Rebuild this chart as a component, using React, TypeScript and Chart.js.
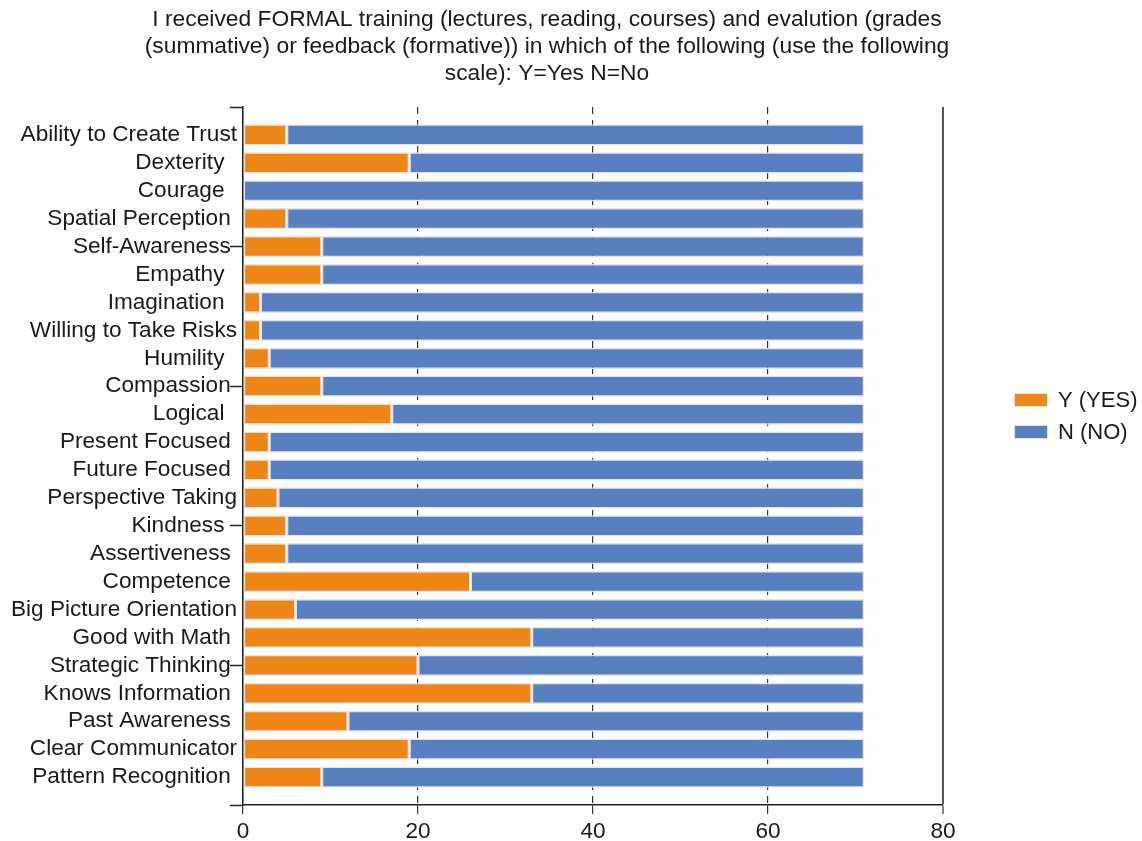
import React, { useEffect, useRef } from 'react';
import { Chart, registerables } from 'chart.js';

Chart.register(...registerables);

const TITLE_LINES = [
  'I received FORMAL training (lectures, reading, courses) and evalution (grades',
  '(summative) or feedback (formative)) in which of the following (use the following',
  'scale): Y=Yes N=No',
];

// Skill names as they appear on the vertical axis (top to bottom)
const skills = [
  'Ability to Create Trust',
  'Dexterity  ',
  'Courage  ',
  'Spatial Perception ',
  'Self-Awareness ',
  'Empathy  ',
  'Imagination  ',
  'Willing to Take Risks',
  'Humility  ',
  'Compassion ',
  'Logical  ',
  'Present Focused ',
  'Future Focused ',
  'Perspective Taking',
  'Kindness  ',
  'Assertiveness ',
  'Competence ',
  'Big Picture Orientation',
  'Good with Math ',
  'Strategic Thinking ',
  'Knows Information ',
  'Past Awareness ',
  'Clear Communicator',
  'Pattern Recognition ',
];

const yesCounts = [5, 19, 0, 5, 9, 9, 2, 2, 3, 9, 17, 3, 3, 4, 5, 5, 26, 6, 33, 20, 33, 12, 19, 9];
const noCounts = [66, 52, 71, 66, 62, 62, 69, 69, 68, 62, 54, 68, 68, 67, 66, 66, 45, 65, 38, 51, 38, 59, 52, 62];

const xTicks = [0, 20, 40, 60, 80];
const seriesNames = ['Y (YES)', 'N (NO)'];

const ORANGE = 'rgb(239,134,24)';
const BLUE = 'rgb(88,127,192)';
const FONT_FAMILY = '"Liberation Sans", Arial, Helvetica, sans-serif';
const TEXT = '#1a1a1a';

const titlePlugin = {
  id: 'blockTitle',
  afterDraw(chart: any) {
    const { ctx } = chart;
    ctx.save();
    ctx.font = `22.8px ${FONT_FAMILY}`;
    ctx.fillStyle = TEXT;
    ctx.textAlign = 'center';
    ctx.textBaseline = 'middle';
    TITLE_LINES.forEach((line, i) => ctx.fillText(line, 547, 20 + i * 27));
    ctx.restore();
  },
};

const sideLegendPlugin = {
  id: 'sideLegend',
  afterDraw(chart: any) {
    const { ctx } = chart;
    ctx.save();
    ctx.font = `22px ${FONT_FAMILY}`;
    ctx.textAlign = 'left';
    ctx.textBaseline = 'middle';
    chart.data.datasets.forEach((ds: any, i: number) => {
      const cy = 400 + i * 32;
      ctx.fillStyle = ds.backgroundColor;
      ctx.fillRect(1014, cy - 7, 34, 14);
      ctx.strokeStyle = '#e2e2e2';
      ctx.lineWidth = 1;
      ctx.strokeRect(1014.5, cy - 6.5, 33, 13);
      ctx.fillStyle = TEXT;
      ctx.fillText(ds.label, 1058, cy + 1);
    });
    ctx.restore();
  },
};

export default function App() {
  const canvasRef = useRef<HTMLCanvasElement | null>(null);

  useEffect(() => {
    const canvas = canvasRef.current;
    if (!canvas) return;

    const chart = new Chart(canvas, {
      type: 'bar',
      data: {
        datasets: [
          {
            label: seriesNames[0],
            data: skills.map((_, i) => ({ x: yesCounts[i], y: i + 1 })),
            backgroundColor: ORANGE,
            borderColor: '#e4e4e4',
            borderWidth: 1.5,
            borderSkipped: false,
          },
          {
            label: seriesNames[1],
            data: skills.map((_, i) => ({ x: noCounts[i], y: i + 1 })),
            backgroundColor: BLUE,
            borderColor: '#e4e4e4',
            borderWidth: 1.5,
            borderSkipped: false,
          },
        ],
      },
      options: {
        indexAxis: 'y',
        responsive: false,
        animation: false,
        devicePixelRatio: 1,
        layout: { padding: { top: 107, right: 199, bottom: 0, left: 0 } },
        datasets: {
          bar: { barPercentage: 0.95, categoryPercentage: 0.8 },
        },
        plugins: {
          legend: { display: false },
          title: { display: false },
          tooltip: { enabled: false },
        },
        scales: {
          x: {
            type: 'linear',
            stacked: true,
            min: 0,
            max: 80,
            afterBuildTicks: (scale: any) => {
              scale.ticks = xTicks.map((v) => ({ value: v }));
            },
            afterFit: (scale: any) => {
              scale.height = 36;
            },
            ticks: {
              color: TEXT,
              font: { size: 22.6, family: FONT_FAMILY },
              padding: 4,
              maxRotation: 0,
            },
            grid: {
              color: (ctx: any) => (ctx.tick && ctx.tick.value === 80 ? '#555' : '#333'),
              lineWidth: (ctx: any) => (ctx.tick && ctx.tick.value === 80 ? 2 : 1.2),
              tickLength: 9,
              tickColor: '#333',
              tickWidth: 1.2,
            },
            border: {
              display: true,
              color: '#222',
              width: 1.5,
              dash: (ctx: any) => (ctx.tick && (ctx.tick.value === 80 || ctx.tick.value === 0) ? [] : [7, 6]),
            },
          },
          y: {
            type: 'linear',
            stacked: true,
            reverse: true,
            offset: false,
            min: 0,
            max: 25,
            afterBuildTicks: (scale: any) => {
              const t = [];
              for (let v = 0; v <= skills.length + 1; v++) t.push({ value: v });
              scale.ticks = t;
            },
            afterFit: (scale: any) => {
              scale.width = 243;
            },
            ticks: {
              autoSkip: false,
              color: TEXT,
              font: { size: 22.6, family: FONT_FAMILY },
              padding: -7,
              callback: (v: any) => (v >= 1 && v <= skills.length ? skills[v - 1] : ''),
            },
            grid: {
              offset: false,
              drawOnChartArea: false,
              drawTicks: true,
              tickLength: 13,
              tickColor: (ctx: any) => (ctx.tick && ctx.tick.value % 5 === 0 ? '#222' : 'rgba(0,0,0,0)'),
              tickWidth: 1.5,
            },
            border: { display: true, color: '#222', width: 1.5 },
          },
        },
      },
      plugins: [titlePlugin, sideLegendPlugin],
    } as any);

    return () => chart.destroy();
  }, []);

  return (
    <div style={{ position: 'fixed', left: 0, top: 0, width: 1142, height: 841, background: '#fff' }}>
      <canvas ref={canvasRef} width={1142} height={841} style={{ display: 'block' }} />
    </div>
  );
}
